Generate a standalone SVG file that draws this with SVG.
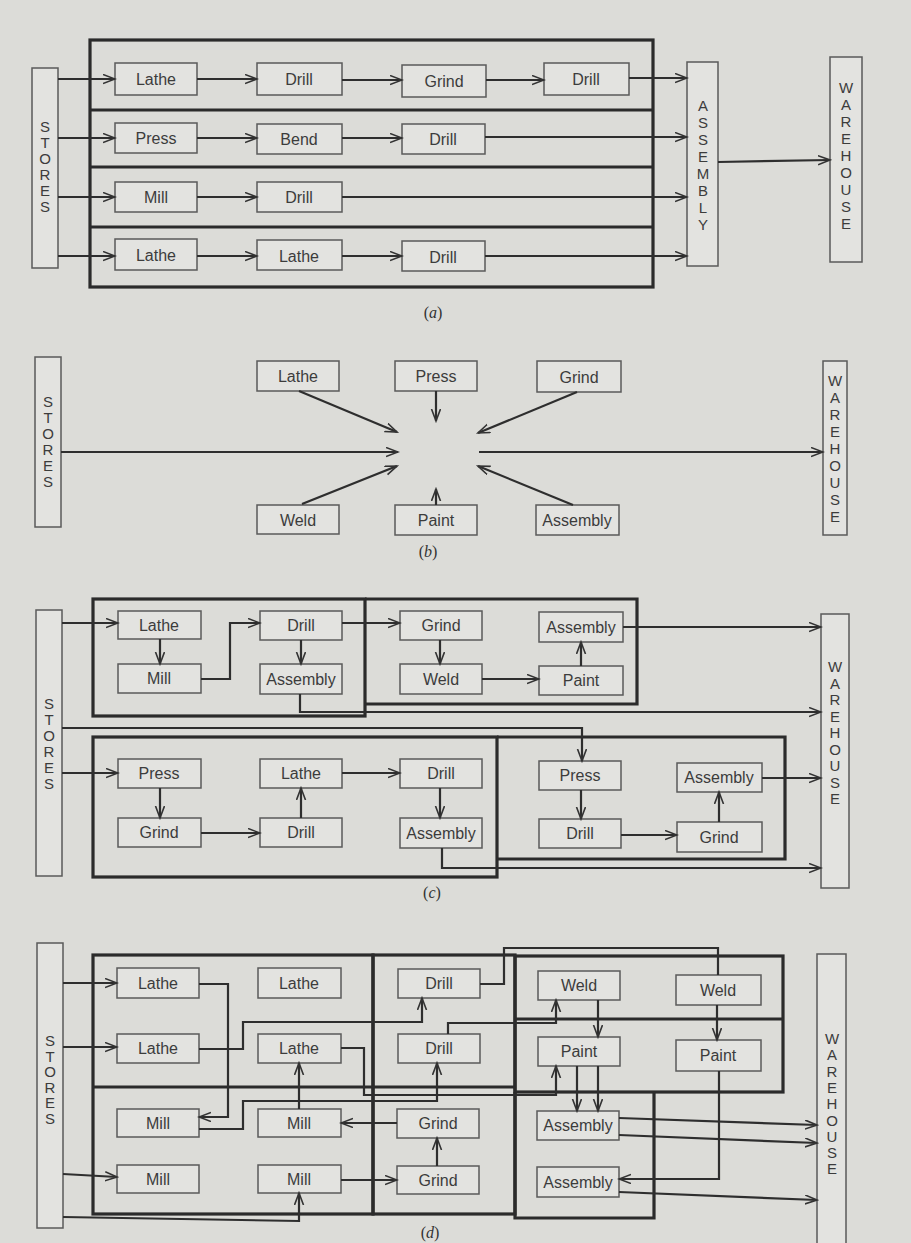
<svg xmlns="http://www.w3.org/2000/svg" width="911" height="1243" viewBox="0 0 911 1243">
<defs>
<marker id="arr" markerUnits="userSpaceOnUse" markerWidth="14" markerHeight="12" refX="12" refY="5" orient="auto">
<path d="M0,0.5 L12,5 L0,9.5" fill="none" stroke="#333" stroke-width="1.6"/>
</marker>
<style>
.n rect{fill:#e3e3e0;stroke:#5a5a5a;stroke-width:1.5}
.n text{font-family:"Liberation Sans",Arial,sans-serif;font-size:16px;fill:#3c3c3c;text-anchor:middle}
.v text{font-family:"Liberation Sans",Arial,sans-serif;font-size:15px;fill:#3c3c3c;text-anchor:middle}
.box{fill:none;stroke:#2b2b2b;stroke-width:3.2}
.c path{fill:none;stroke:#2e2e2e;stroke-width:2.2;marker-end:url(#arr)}
.c path.na{marker-end:none}
.lbl{font-family:"Liberation Serif",serif;font-size:16px;fill:#333;text-anchor:middle}
</style>
</defs>
<rect width="911" height="1243" fill="#dcdcd8"/>

<!-- ================= (a) ================= -->
<g id="a-frame">
<rect class="box" x="90" y="40" width="563" height="247"/>
<path class="box" d="M90,110 H653 M90,167 H653 M90,227 H653"/>
</g>
<g id="a-stores" class="n v"><rect x="32" y="68" width="26" height="200"/>
<text x="45" y="132"><tspan x="45">S</tspan><tspan x="45" dy="16">T</tspan><tspan x="45" dy="16">O</tspan><tspan x="45" dy="16">R</tspan><tspan x="45" dy="16">E</tspan><tspan x="45" dy="16">S</tspan></text></g>
<g id="a-r1-lathe" class="n"><rect x="115" y="63" width="82" height="32"/><text x="156" y="85">Lathe</text></g>
<g id="a-r1-drill" class="n"><rect x="257" y="63" width="85" height="32"/><text x="299" y="85">Drill</text></g>
<g id="a-r1-grind" class="n"><rect x="402" y="65" width="84" height="32"/><text x="444" y="87">Grind</text></g>
<g id="a-r1-drill2" class="n"><rect x="544" y="63" width="85" height="32"/><text x="586" y="85">Drill</text></g>
<g id="a-r2-press" class="n"><rect x="115" y="123" width="82" height="30"/><text x="156" y="144">Press</text></g>
<g id="a-r2-bend" class="n"><rect x="257" y="124" width="85" height="30"/><text x="299" y="145">Bend</text></g>
<g id="a-r2-drill" class="n"><rect x="402" y="124" width="83" height="30"/><text x="443" y="145">Drill</text></g>
<g id="a-r3-mill" class="n"><rect x="115" y="182" width="82" height="30"/><text x="156" y="203">Mill</text></g>
<g id="a-r3-drill" class="n"><rect x="257" y="182" width="85" height="30"/><text x="299" y="203">Drill</text></g>
<g id="a-r4-lathe" class="n"><rect x="115" y="239" width="82" height="31"/><text x="156" y="261">Lathe</text></g>
<g id="a-r4-lathe2" class="n"><rect x="257" y="240" width="85" height="30"/><text x="299" y="262">Lathe</text></g>
<g id="a-r4-drill" class="n"><rect x="402" y="241" width="83" height="30"/><text x="443" y="263">Drill</text></g>
<g id="a-assembly" class="n v"><rect x="687" y="62" width="31" height="204"/>
<text x="703" y="111"><tspan x="703">A</tspan><tspan x="703" dy="17">S</tspan><tspan x="703" dy="17">S</tspan><tspan x="703" dy="17">E</tspan><tspan x="703" dy="17">M</tspan><tspan x="703" dy="17">B</tspan><tspan x="703" dy="17">L</tspan><tspan x="703" dy="17">Y</tspan></text></g>
<g id="a-warehouse" class="n v"><rect x="830" y="57" width="32" height="205"/>
<text x="846" y="93"><tspan x="846">W</tspan><tspan x="846" dy="17">A</tspan><tspan x="846" dy="17">R</tspan><tspan x="846" dy="17">E</tspan><tspan x="846" dy="17">H</tspan><tspan x="846" dy="17">O</tspan><tspan x="846" dy="17">U</tspan><tspan x="846" dy="17">S</tspan><tspan x="846" dy="17">E</tspan></text></g>
<g id="a-connectors" class="c">
<path d="M58,79 H115"/><path d="M197,79 H257"/><path d="M342,80 H402"/><path d="M486,80 H544"/><path d="M629,78 H687"/>
<path d="M58,138 H115"/><path d="M197,138 H257"/><path d="M342,138 H402"/><path d="M485,137 H687"/>
<path d="M58,197 H115"/><path d="M197,197 H257"/><path d="M342,197 H687"/>
<path d="M58,256 H115"/><path d="M197,256 H257"/><path d="M342,256 H402"/><path d="M485,256 H687"/>
<path d="M718,162 L830,160"/>
</g>
<text class="lbl" x="433" y="318">(<tspan font-style="italic">a</tspan>)</text>

<!-- ================= (b) ================= -->
<g id="b-stores" class="n v"><rect x="35" y="357" width="26" height="170"/>
<text x="48" y="407"><tspan x="48">S</tspan><tspan x="48" dy="16">T</tspan><tspan x="48" dy="16">O</tspan><tspan x="48" dy="16">R</tspan><tspan x="48" dy="16">E</tspan><tspan x="48" dy="16">S</tspan></text></g>
<g id="b-lathe" class="n"><rect x="257" y="361" width="82" height="30"/><text x="298" y="382">Lathe</text></g>
<g id="b-press" class="n"><rect x="395" y="361" width="82" height="30"/><text x="436" y="382">Press</text></g>
<g id="b-grind" class="n"><rect x="537" y="361" width="84" height="31"/><text x="579" y="383">Grind</text></g>
<g id="b-weld" class="n"><rect x="257" y="505" width="82" height="29"/><text x="298" y="526">Weld</text></g>
<g id="b-paint" class="n"><rect x="395" y="505" width="82" height="30"/><text x="436" y="526">Paint</text></g>
<g id="b-assembly" class="n"><rect x="536" y="505" width="83" height="30"/><text x="577" y="526">Assembly</text></g>
<g id="b-warehouse" class="n v"><rect x="823" y="361" width="24" height="174"/>
<text x="835" y="386"><tspan x="835">W</tspan><tspan x="835" dy="17">A</tspan><tspan x="835" dy="17">R</tspan><tspan x="835" dy="17">E</tspan><tspan x="835" dy="17">H</tspan><tspan x="835" dy="17">O</tspan><tspan x="835" dy="17">U</tspan><tspan x="835" dy="17">S</tspan><tspan x="835" dy="17">E</tspan></text></g>
<g id="b-connectors" class="c">
<path d="M61,452 H398"/>
<path d="M299,391 L397,432"/>
<path d="M436,391 V421"/>
<path d="M302,504 L397,466"/>
<path d="M436,505 V489"/>
<path d="M577,392 L478,433"/>
<path d="M573,505 L478,466"/>
<path d="M479,452 H823"/>
</g>
<text class="lbl" x="428" y="557">(<tspan font-style="italic">b</tspan>)</text>

<!-- ================= (c) ================= -->
<g id="c-frame">
<rect class="box" x="93" y="599" width="272" height="117"/>
<path class="box" d="M365,599 H637 V704 H365"/>
<rect class="box" x="93" y="737" width="404" height="140"/>
<path class="box" d="M497,737 H785 V859 H497"/>
</g>
<g id="c-stores" class="n v"><rect x="36" y="610" width="26" height="266"/>
<text x="49" y="709"><tspan x="49">S</tspan><tspan x="49" dy="16">T</tspan><tspan x="49" dy="16">O</tspan><tspan x="49" dy="16">R</tspan><tspan x="49" dy="16">E</tspan><tspan x="49" dy="16">S</tspan></text></g>
<g id="c-u-lathe" class="n"><rect x="118" y="611" width="83" height="28"/><text x="159" y="631">Lathe</text></g>
<g id="c-u-mill" class="n"><rect x="118" y="664" width="83" height="29"/><text x="159" y="684">Mill</text></g>
<g id="c-u-drill" class="n"><rect x="260" y="611" width="82" height="29"/><text x="301" y="631">Drill</text></g>
<g id="c-u-assembly" class="n"><rect x="260" y="664" width="82" height="30"/><text x="301" y="685">Assembly</text></g>
<g id="c-u-grind" class="n"><rect x="400" y="611" width="82" height="29"/><text x="441" y="631">Grind</text></g>
<g id="c-u-weld" class="n"><rect x="400" y="664" width="82" height="30"/><text x="441" y="685">Weld</text></g>
<g id="c-u-assembly2" class="n"><rect x="539" y="612" width="84" height="30"/><text x="581" y="633">Assembly</text></g>
<g id="c-u-paint" class="n"><rect x="539" y="666" width="84" height="29"/><text x="581" y="686">Paint</text></g>
<g id="c-l-press" class="n"><rect x="118" y="759" width="83" height="29"/><text x="159" y="779">Press</text></g>
<g id="c-l-grind" class="n"><rect x="118" y="818" width="83" height="29"/><text x="159" y="838">Grind</text></g>
<g id="c-l-lathe" class="n"><rect x="260" y="759" width="82" height="29"/><text x="301" y="779">Lathe</text></g>
<g id="c-l-drill" class="n"><rect x="260" y="818" width="82" height="29"/><text x="301" y="838">Drill</text></g>
<g id="c-l-drill2" class="n"><rect x="400" y="759" width="82" height="29"/><text x="441" y="779">Drill</text></g>
<g id="c-l-assembly" class="n"><rect x="400" y="818" width="82" height="30"/><text x="441" y="839">Assembly</text></g>
<g id="c-l-press2" class="n"><rect x="539" y="761" width="82" height="29"/><text x="580" y="781">Press</text></g>
<g id="c-l-drill3" class="n"><rect x="539" y="819" width="82" height="29"/><text x="580" y="839">Drill</text></g>
<g id="c-l-assembly2" class="n"><rect x="677" y="763" width="85" height="29"/><text x="719" y="783">Assembly</text></g>
<g id="c-l-grind2" class="n"><rect x="677" y="822" width="85" height="30"/><text x="719" y="843">Grind</text></g>
<g id="c-warehouse" class="n v"><rect x="821" y="614" width="28" height="274"/>
<text x="835" y="672"><tspan x="835">W</tspan><tspan x="835" dy="16.5">A</tspan><tspan x="835" dy="16.5">R</tspan><tspan x="835" dy="16.5">E</tspan><tspan x="835" dy="16.5">H</tspan><tspan x="835" dy="16.5">O</tspan><tspan x="835" dy="16.5">U</tspan><tspan x="835" dy="16.5">S</tspan><tspan x="835" dy="16.5">E</tspan></text></g>
<g id="c-connectors" class="c">
<path d="M62,623 H118"/>
<path d="M160,639 V664"/>
<path d="M201,679 H230 V623 H260"/>
<path d="M301,640 V664"/>
<path d="M342,623 H400"/>
<path d="M440,640 V664"/>
<path d="M482,679 H539"/>
<path d="M581,666 V642"/>
<path d="M623,627 H821"/>
<path d="M300,694 V712 H821"/>
<path d="M62,728 H582 V761"/>
<path d="M62,773 H118"/>
<path d="M160,788 V818"/>
<path d="M201,833 H260"/>
<path d="M301,818 V788"/>
<path d="M342,773 H400"/>
<path d="M440,788 V818"/>
<path d="M442,848 V868 H821"/>
<path d="M581,790 V819"/>
<path d="M621,835 H677"/>
<path d="M719,822 V792"/>
<path d="M762,778 H821"/>
</g>
<text class="lbl" x="432" y="898">(<tspan font-style="italic">c</tspan>)</text>

<!-- ================= (d) ================= -->
<g id="d-frame">
<rect class="box" x="93" y="955" width="280" height="259"/>
<rect class="box" x="373" y="955" width="142" height="259"/>
<path class="box" d="M93,1087 H515"/>
<rect class="box" x="515" y="956" width="268" height="136"/>
<path class="box" d="M515,1019 H783"/>
<path class="box" d="M515,1092 V1218 H654 V1092"/>
</g>
<g id="d-stores" class="n v"><rect x="37" y="943" width="26" height="285"/>
<text x="50" y="1046"><tspan x="50">S</tspan><tspan x="50" dy="15.5">T</tspan><tspan x="50" dy="15.5">O</tspan><tspan x="50" dy="15.5">R</tspan><tspan x="50" dy="15.5">E</tspan><tspan x="50" dy="15.5">S</tspan></text></g>
<g id="d-lathe11" class="n"><rect x="117" y="968" width="82" height="30"/><text x="158" y="989">Lathe</text></g>
<g id="d-lathe12" class="n"><rect x="258" y="968" width="83" height="30"/><text x="299" y="989">Lathe</text></g>
<g id="d-lathe21" class="n"><rect x="117" y="1034" width="82" height="29"/><text x="158" y="1054">Lathe</text></g>
<g id="d-lathe22" class="n"><rect x="258" y="1034" width="83" height="29"/><text x="299" y="1054">Lathe</text></g>
<g id="d-mill31" class="n"><rect x="117" y="1109" width="82" height="28"/><text x="158" y="1129">Mill</text></g>
<g id="d-mill32" class="n"><rect x="258" y="1109" width="83" height="28"/><text x="299" y="1129">Mill</text></g>
<g id="d-mill41" class="n"><rect x="117" y="1165" width="82" height="28"/><text x="158" y="1185">Mill</text></g>
<g id="d-mill42" class="n"><rect x="258" y="1165" width="83" height="28"/><text x="299" y="1185">Mill</text></g>
<g id="d-drill13" class="n"><rect x="398" y="969" width="82" height="29"/><text x="439" y="989">Drill</text></g>
<g id="d-drill23" class="n"><rect x="398" y="1034" width="82" height="29"/><text x="439" y="1054">Drill</text></g>
<g id="d-grind33" class="n"><rect x="397" y="1109" width="82" height="29"/><text x="438" y="1129">Grind</text></g>
<g id="d-grind43" class="n"><rect x="397" y="1166" width="82" height="28"/><text x="438" y="1186">Grind</text></g>
<g id="d-weld14" class="n"><rect x="538" y="971" width="82" height="29"/><text x="579" y="991">Weld</text></g>
<g id="d-paint24" class="n"><rect x="538" y="1037" width="82" height="29"/><text x="579" y="1057">Paint</text></g>
<g id="d-weld15" class="n"><rect x="676" y="975" width="85" height="30"/><text x="718" y="996">Weld</text></g>
<g id="d-paint25" class="n"><rect x="676" y="1040" width="85" height="31"/><text x="718" y="1061">Paint</text></g>
<g id="d-assembly34" class="n"><rect x="537" y="1111" width="82" height="29"/><text x="578" y="1131">Assembly</text></g>
<g id="d-assembly44" class="n"><rect x="537" y="1167" width="82" height="30"/><text x="578" y="1188">Assembly</text></g>
<g id="d-warehouse" class="n v"><rect x="817" y="954" width="29" height="300"/>
<text x="832" y="1044"><tspan x="832">W</tspan><tspan x="832" dy="16.3">A</tspan><tspan x="832" dy="16.3">R</tspan><tspan x="832" dy="16.3">E</tspan><tspan x="832" dy="16.3">H</tspan><tspan x="832" dy="16.3">O</tspan><tspan x="832" dy="16.3">U</tspan><tspan x="832" dy="16.3">S</tspan><tspan x="832" dy="16.3">E</tspan></text></g>
<g id="d-connectors" class="c">
<path d="M63,983 H117"/>
<path d="M63,1047 H117"/>
<path d="M63,1174 L117,1177"/>
<path d="M63,1217 L299,1221 V1193"/>
<path d="M199,984 H228 V1117 H199"/>
<path d="M199,1049 H243 V1022 H422 V998"/>
<path d="M341,1048 H364 V1095 H556 V1066"/>
<path d="M199,1129 H243 V1101 H437 V1063"/>
<path d="M299,1109 V1063"/>
<path d="M397,1123 H341"/>
<path d="M341,1180 H397"/>
<path d="M437,1166 V1138"/>
<path class="na" d="M480,984 H504 V948 H718 V975"/>
<path d="M448,1034 V1023 H556 V1000"/>
<path d="M598,1000 V1037"/>
<path d="M717,1005 V1040"/>
<path d="M577,1066 V1111"/>
<path d="M598,1066 V1111"/>
<path d="M619,1118 L817,1125"/>
<path d="M619,1135 L817,1143"/>
<path d="M719,1071 V1179 H619"/>
<path d="M619,1192 L817,1200"/>
</g>
<text class="lbl" x="430" y="1238" font-size="14">(<tspan font-style="italic">d</tspan>)</text>
</svg>
